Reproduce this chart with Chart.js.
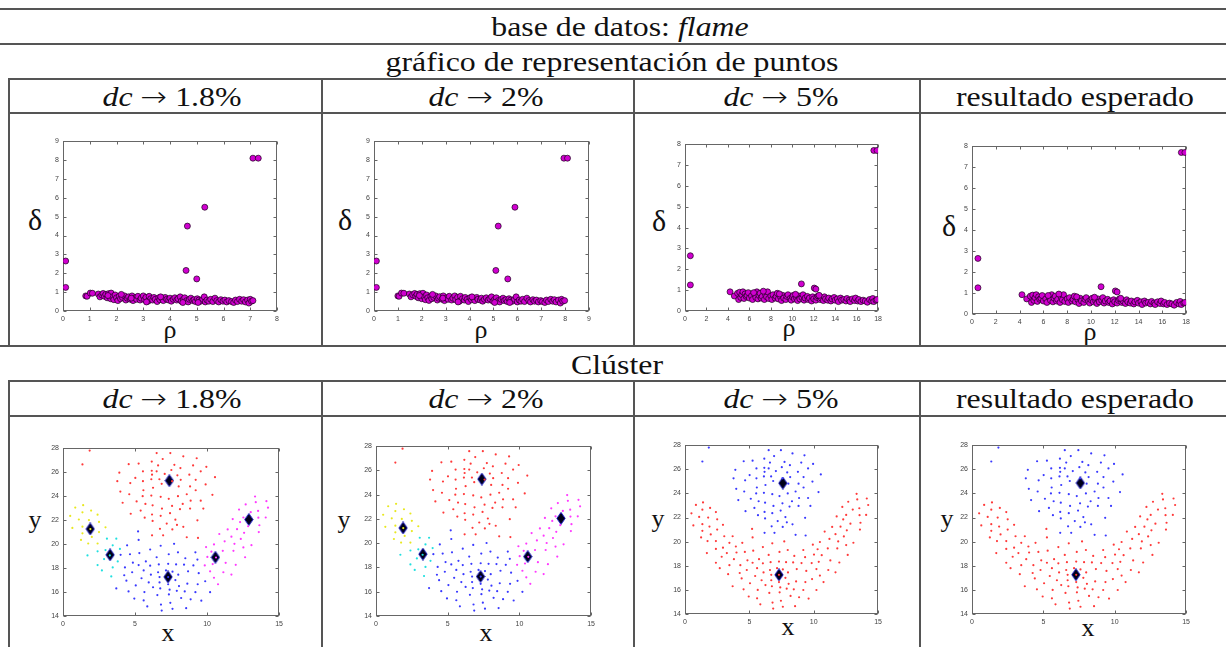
<!DOCTYPE html>
<html>
<head>
<meta charset="utf-8">
<script src="https://cdn.jsdelivr.net/npm/chart.js@4.4.0/dist/chart.umd.min.js"></script>
<style>
  body { margin: 0; width: 1226px; height: 647px; background: #fff; position: relative; overflow: hidden; font-family: "Liberation Serif", serif; color: #111; }
  .hl { position: absolute; height: 2px; background: #555; }
  .vl { position: absolute; width: 2px; background: #555; }
  .t { position: absolute; font-size: 27px; line-height: 1; white-space: nowrap; transform: translate(-50%, -50%) scaleX(1.18); }
  .t .arr { font-family: "DejaVu Sans", sans-serif; font-size: 27px; font-weight: 300; }
  .ax { position: absolute; font-size: 26px; line-height: 1; white-space: nowrap; transform: translate(-50%, -50%); }
  canvas { position: absolute; }
</style>
</head>
<body>

<div class="hl" style="left:0;top:8px;width:1226px"></div>
<div class="hl" style="left:0;top:43px;width:1226px"></div>
<div class="hl" style="left:9px;top:78px;width:1217px"></div>
<div class="hl" style="left:9px;top:112px;width:1217px"></div>
<div class="hl" style="left:0;top:345px;width:1226px"></div>
<div class="hl" style="left:9px;top:380px;width:1217px"></div>
<div class="hl" style="left:9px;top:415px;width:1217px"></div>

<div class="vl" style="left:8px;top:78px;height:268px"></div>
<div class="vl" style="left:321px;top:78px;height:268px"></div>
<div class="vl" style="left:633px;top:78px;height:268px"></div>
<div class="vl" style="left:919px;top:78px;height:268px"></div>
<div class="vl" style="left:8px;top:380px;height:267px"></div>
<div class="vl" style="left:321px;top:380px;height:267px"></div>
<div class="vl" style="left:633px;top:380px;height:267px"></div>
<div class="vl" style="left:919px;top:380px;height:267px"></div>

<div class="t" style="left:620px;top:27px">base de datos: <i>flame</i></div>
<div class="t" style="left:612px;top:62px">gráfico de representación de puntos</div>
<div class="t" style="left:172px;top:97px"><i>dc</i> <span class="arr">→</span> 1.8%</div>
<div class="t" style="left:486px;top:97px"><i>dc</i> <span class="arr">→</span> 2%</div>
<div class="t" style="left:781px;top:97px"><i>dc</i> <span class="arr">→</span> 5%</div>
<div class="t" style="left:1075px;top:97px">resultado esperado</div>
<div class="t" style="left:617px;top:365px">Clúster</div>
<div class="t" style="left:172px;top:399px"><i>dc</i> <span class="arr">→</span> 1.8%</div>
<div class="t" style="left:486px;top:399px"><i>dc</i> <span class="arr">→</span> 2%</div>
<div class="t" style="left:781px;top:399px"><i>dc</i> <span class="arr">→</span> 5%</div>
<div class="t" style="left:1075px;top:399px">resultado esperado</div>

<div class="ax" style="left:35px;top:220px;font-size:30px">δ</div>
<div class="ax" style="left:170px;top:330px">ρ</div>
<div class="ax" style="left:345px;top:220px;font-size:30px">δ</div>
<div class="ax" style="left:481px;top:330px">ρ</div>
<div class="ax" style="left:659px;top:221px;font-size:30px">δ</div>
<div class="ax" style="left:789px;top:328px">ρ</div>
<div class="ax" style="left:949px;top:226px;font-size:30px">δ</div>
<div class="ax" style="left:1090px;top:332px">ρ</div>

<div class="ax" style="left:35px;top:520px">y</div>
<div class="ax" style="left:168px;top:633px">x</div>
<div class="ax" style="left:344px;top:520px">y</div>
<div class="ax" style="left:486px;top:633px">x</div>
<div class="ax" style="left:658px;top:519px">y</div>
<div class="ax" style="left:788px;top:627px">x</div>
<div class="ax" style="left:947px;top:519px">y</div>
<div class="ax" style="left:1088px;top:628px">x</div>

<canvas id="d1"></canvas>
<canvas id="d2"></canvas>
<canvas id="d3"></canvas>
<canvas id="d4"></canvas>
<canvas id="c1"></canvas>
<canvas id="c2"></canvas>
<canvas id="c3"></canvas>
<canvas id="c4"></canvas>

<script>
// tick labels
const rhoTicks18 = [0, 1, 2, 3, 4, 5, 6, 7, 8];
const rhoTicks2 = [0, 1, 2, 3, 4, 5, 6, 7, 8, 9];
const rhoTicks5 = [0, 2, 4, 6, 8, 10, 12, 14, 16, 18];
const deltaTicks9 = [0, 1, 2, 3, 4, 5, 6, 7, 8, 9];
const deltaTicks8 = [0, 1, 2, 3, 4, 5, 6, 7, 8];
const xTicks = [0, 5, 10, 15];
const yTicks = [14, 16, 18, 20, 22, 24, 26, 28];

// decision graph, dc 1.8%  [rho, delta]
const decision18 = [
  [0.1, 2.65], [0.1, 1.25], [4.6, 2.15], [4.65, 4.5], [5.0, 1.7], [5.3, 5.5], [7.1, 8.1], [7.3, 8.1],
  [0.85, 0.80], [0.90, 0.78], [1.02, 0.95], [1.10, 0.94], [1.32, 0.90], [1.38, 0.75], [1.45, 0.85], [1.50, 0.93],
  [1.55, 0.78], [1.60, 0.88], [1.65, 0.70], [1.70, 0.92], [1.72, 0.80], [1.78, 0.65], [1.80, 0.95], [1.85, 0.75],
  [1.90, 0.60], [1.95, 0.85], [2.00, 0.70], [2.05, 0.55], [2.10, 0.78], [2.15, 0.65], [2.22, 0.72], [2.30, 0.80],
  [2.35, 0.58], [2.40, 0.68], [2.45, 0.75], [2.52, 0.62], [2.58, 0.80], [2.62, 0.55], [2.70, 0.70], [2.75, 0.62],
  [2.80, 0.78], [2.88, 0.58], [2.92, 0.68], [3.00, 0.80], [3.05, 0.60], [3.10, 0.72], [3.18, 0.52], [3.22, 0.78],
  [3.28, 0.65], [3.35, 0.58], [3.40, 0.72], [3.45, 0.62], [3.52, 0.50], [3.58, 0.70], [3.62, 0.60], [3.70, 0.68],
  [3.75, 0.55], [3.82, 0.72], [3.88, 0.62], [3.95, 0.58], [4.00, 0.68], [4.05, 0.52], [4.12, 0.62], [4.18, 0.70],
  [4.25, 0.58], [4.30, 0.65], [4.38, 0.75], [4.42, 0.52], [4.50, 0.62], [4.55, 0.70], [4.62, 0.55], [4.68, 0.48],
  [4.72, 0.62], [4.78, 0.68], [4.85, 0.55], [4.90, 0.60], [4.95, 0.50], [5.02, 0.65], [5.08, 0.58], [5.15, 0.52],
  [5.22, 0.62], [5.28, 0.75], [5.32, 0.48], [5.38, 0.58], [5.45, 0.52], [5.52, 0.62], [5.60, 0.50], [5.68, 0.68],
  [5.75, 0.55], [5.82, 0.48], [5.90, 0.60], [5.98, 0.52], [6.05, 0.58], [6.12, 0.48], [6.20, 0.55], [6.30, 0.50],
  [6.38, 0.45], [6.45, 0.58], [6.52, 0.50], [6.60, 0.62], [6.68, 0.52], [6.75, 0.60], [6.82, 0.48], [6.90, 0.58],
  [6.95, 0.42], [7.00, 0.62], [7.05, 0.52], [7.10, 0.55], [2.55, 0.68], [3.65, 0.75], [1.68, 0.82], [4.48, 0.45],
  [5.05, 0.45], [3.12, 0.48], [2.18, 0.88]
];

// decision graph, dc 2%
const decision2 = [
  [0.1, 2.65], [0.1, 1.25], [5.1, 2.15], [5.2, 4.5], [5.6, 1.7], [5.9, 5.5], [7.95, 8.1], [8.1, 8.1],
  [1.00, 0.80], [1.05, 0.78], [1.15, 0.95], [1.25, 0.94], [1.48, 0.90], [1.55, 0.75], [1.62, 0.86], [1.70, 0.93],
  [1.75, 0.78], [1.80, 0.88], [1.85, 0.70], [1.92, 0.92], [1.95, 0.80], [2.00, 0.65], [2.05, 0.94], [2.10, 0.75],
  [2.15, 0.60], [2.20, 0.85], [2.25, 0.70], [2.30, 0.56], [2.38, 0.78], [2.42, 0.65], [2.50, 0.72], [2.58, 0.80],
  [2.65, 0.58], [2.70, 0.68], [2.75, 0.76], [2.85, 0.62], [2.90, 0.80], [2.95, 0.55], [3.05, 0.70], [3.10, 0.62],
  [3.15, 0.78], [3.25, 0.58], [3.30, 0.68], [3.38, 0.80], [3.42, 0.60], [3.50, 0.72], [3.58, 0.52], [3.62, 0.78],
  [3.70, 0.65], [3.78, 0.58], [3.82, 0.72], [3.90, 0.62], [3.95, 0.50], [4.02, 0.70], [4.08, 0.60], [4.15, 0.68],
  [4.22, 0.55], [4.30, 0.72], [4.35, 0.62], [4.45, 0.58], [4.50, 0.68], [4.55, 0.52], [4.62, 0.62], [4.70, 0.70],
  [4.78, 0.58], [4.85, 0.65], [4.92, 0.75], [4.98, 0.52], [5.05, 0.62], [5.12, 0.70], [5.20, 0.55], [5.26, 0.48],
  [5.32, 0.62], [5.40, 0.68], [5.45, 0.55], [5.52, 0.60], [5.58, 0.50], [5.65, 0.65], [5.72, 0.58], [5.80, 0.52],
  [5.88, 0.62], [5.95, 0.75], [6.00, 0.48], [6.08, 0.58], [6.15, 0.52], [6.22, 0.62], [6.30, 0.50], [6.40, 0.68],
  [6.48, 0.55], [6.55, 0.48], [6.65, 0.60], [6.72, 0.52], [6.80, 0.58], [6.88, 0.48], [6.98, 0.55], [7.05, 0.50],
  [7.15, 0.45], [7.22, 0.58], [7.30, 0.50], [7.40, 0.62], [7.48, 0.52], [7.55, 0.60], [7.62, 0.48], [7.72, 0.58],
  [7.80, 0.42], [7.85, 0.62], [7.90, 0.52], [7.98, 0.55], [2.88, 0.68], [4.10, 0.75], [1.90, 0.82], [5.05, 0.45],
  [5.68, 0.45], [3.52, 0.48], [2.45, 0.88]
];

// decision graph, dc 5% (the expected-result graph looks the same)
const decision5 = [
  [0.5, 2.65], [0.5, 1.25], [10.85, 1.3], [12.05, 1.1], [12.2, 1.05], [17.6, 7.7], [17.9, 7.7],
  [4.20, 0.92], [4.60, 0.72], [4.90, 0.85], [5.00, 0.55], [5.10, 0.90], [5.20, 0.65], [5.30, 0.78], [5.40, 0.92],
  [5.50, 0.60], [5.60, 0.82], [5.70, 0.70], [5.80, 0.75], [5.90, 0.88], [6.00, 0.62], [6.20, 0.72], [6.30, 0.55],
  [6.50, 0.80], [6.60, 0.65], [6.70, 0.92], [6.80, 0.58], [6.90, 0.75], [7.00, 0.85], [7.10, 0.62], [7.20, 0.70],
  [7.40, 0.55], [7.50, 0.80], [7.60, 0.68], [7.70, 0.92], [7.80, 0.60], [8.00, 0.72], [8.10, 0.55], [8.20, 0.78],
  [8.40, 0.62], [8.50, 0.70], [8.60, 0.85], [8.70, 0.58], [8.90, 0.68], [9.00, 0.50], [9.10, 0.75], [9.20, 0.62],
  [9.40, 0.55], [9.50, 0.70], [9.60, 0.78], [9.80, 0.60], [9.90, 0.52], [10.00, 0.68], [10.10, 0.75], [10.20, 0.58],
  [10.40, 0.62], [10.50, 0.50], [10.60, 0.72], [10.70, 0.58], [10.90, 0.65], [11.00, 0.78], [11.10, 0.52], [11.20, 0.62],
  [11.40, 0.70], [11.50, 0.55], [11.60, 0.62], [11.80, 0.48], [11.90, 0.68], [12.00, 0.58], [12.20, 0.52], [12.30, 0.65],
  [12.40, 0.72], [12.60, 0.55], [12.70, 0.62], [12.90, 0.50], [13.00, 0.68], [13.10, 0.58], [13.30, 0.52], [13.40, 0.62],
  [13.60, 0.48], [13.70, 0.58], [13.90, 0.65], [14.00, 0.52], [14.20, 0.58], [14.30, 0.45], [14.50, 0.62], [14.60, 0.52],
  [14.80, 0.55], [15.00, 0.48], [15.10, 0.60], [15.30, 0.52], [15.40, 0.45], [15.60, 0.58], [15.80, 0.50], [15.90, 0.62],
  [16.10, 0.48], [16.20, 0.55], [16.40, 0.45], [16.60, 0.52], [16.80, 0.48], [17.00, 0.42], [17.20, 0.55], [17.40, 0.48],
  [17.50, 0.60], [17.60, 0.45], [17.80, 0.52], [17.90, 0.55], [6.40, 0.88], [7.30, 0.95], [8.80, 0.82], [10.30, 0.80],
  [12.50, 0.75]
];

// flame points [x, y], grouped as the dc 1.8% run colours them
const topPts = [
  [1.85, 27.80], [1.35, 26.65], [6.50, 27.59], [7.45, 27.59], [6.92, 27.10], [8.35, 27.32], [5.25, 26.72], [6.16, 26.88],
  [7.73, 26.61], [9.28, 27.16], [9.03, 26.56], [9.95, 26.45], [6.60, 26.56], [8.15, 26.34], [4.56, 26.67], [3.91, 25.96],
  [5.55, 26.07], [6.16, 26.12], [6.50, 26.07], [7.52, 26.18], [7.06, 25.85], [9.56, 26.07], [10.55, 25.58], [5.02, 25.52],
  [3.77, 25.25], [4.67, 25.09], [5.55, 25.25], [6.13, 25.41], [6.69, 25.41], [6.18, 25.79], [7.94, 25.74], [8.17, 25.36],
  [8.77, 25.79], [9.21, 25.36], [6.85, 25.03], [6.25, 24.70], [5.58, 24.49], [3.98, 24.38], [8.03, 24.81], [7.57, 25.25],
  [8.82, 24.81], [9.90, 24.98], [4.60, 24.16], [5.53, 24.00], [6.13, 24.05], [6.78, 23.94], [7.34, 23.78], [7.98, 24.00],
  [8.59, 24.16], [9.21, 24.49], [10.37, 24.11], [5.11, 23.56], [5.72, 23.35], [6.22, 23.23], [6.87, 22.96], [7.57, 23.18],
  [8.31, 23.35], [8.86, 23.62], [9.56, 23.62], [4.14, 23.45], [5.39, 22.80], [4.70, 22.53], [6.18, 22.47], [6.78, 22.36],
  [7.43, 22.58], [8.12, 22.91], [8.82, 22.96], [9.74, 22.96], [5.67, 22.20], [6.22, 21.93], [7.20, 21.71], [7.91, 21.60],
  [8.35, 21.44], [7.80, 22.04], [9.33, 21.98], [6.73, 21.27], [7.59, 21.22], [6.18, 20.73], [6.95, 20.73], [8.59, 20.57],
  [9.37, 20.51]
];
const yellowPts = [
  [1.40, 23.25], [0.85, 23.05], [0.50, 22.35], [0.65, 21.35], [1.10, 22.05], [1.35, 22.65], [1.95, 22.80], [2.40, 22.45],
  [1.80, 22.00], [2.50, 21.85], [2.95, 21.40], [1.90, 21.25], [1.35, 21.45], [1.35, 20.90], [1.25, 20.35], [1.75, 20.05],
  [2.00, 20.60], [2.50, 21.00], [2.40, 20.05]
];
const cyanPts = [
  [1.70, 19.05], [3.05, 20.45], [3.70, 20.45], [3.45, 19.90], [2.95, 19.50], [2.40, 19.40], [2.40, 18.25], [2.85, 18.75],
  [3.25, 19.05], [3.95, 19.60], [2.70, 17.80], [3.45, 18.05], [3.80, 18.55], [3.35, 17.30]
];
const bluePts = [
  [4.00, 19.10], [4.45, 19.90], [4.65, 19.15], [4.85, 18.45], [4.30, 18.05], [3.70, 16.30], [4.40, 16.95], [4.25, 17.40],
  [4.80, 17.65], [5.25, 18.25], [5.75, 18.55], [5.30, 19.25], [6.05, 19.55], [6.50, 18.90], [6.05, 18.20], [5.60, 17.80],
  [5.45, 17.15], [5.05, 16.55], [4.55, 16.05], [4.95, 15.45], [5.85, 14.80], [5.60, 15.30], [5.65, 16.00], [5.95, 16.80],
  [6.25, 16.40], [6.10, 17.45], [6.60, 17.65], [6.65, 18.30], [7.30, 18.35], [7.85, 18.30], [7.15, 17.80], [7.60, 17.70],
  [6.70, 17.25], [7.30, 17.25], [6.70, 16.80], [7.30, 16.65], [6.75, 16.30], [7.40, 16.20], [6.55, 15.75], [7.35, 15.80],
  [6.80, 14.95], [7.45, 15.10], [6.85, 14.45], [7.60, 14.60], [8.55, 14.65], [8.20, 15.50], [7.90, 16.10], [8.05, 16.50],
  [7.80, 17.00], [8.00, 17.45], [8.40, 18.28], [5.21, 21.06], [5.25, 20.35], [6.78, 19.86], [7.71, 20.02], [7.98, 19.31],
  [7.34, 19.15], [8.49, 18.82], [9.19, 19.31], [9.33, 18.71], [9.05, 18.22], [8.68, 17.73], [9.42, 17.57], [8.63, 16.70],
  [9.35, 16.65], [8.45, 16.05], [9.19, 15.99], [8.86, 15.39], [9.60, 15.28], [9.87, 16.90], [10.21, 15.99]
];
const magentaPts = [
  [10.85, 20.84], [9.93, 19.75], [10.48, 19.97], [10.30, 19.37], [10.02, 18.93], [10.62, 18.88], [9.84, 18.22], [10.39, 18.33],
  [10.21, 17.73], [10.48, 17.19], [10.76, 16.65], [13.33, 23.97], [14.12, 23.58], [13.38, 23.50], [14.23, 23.04], [12.68, 23.31],
  [13.54, 22.77], [12.22, 22.88], [13.03, 22.66], [12.52, 22.22], [14.07, 22.22], [13.56, 22.20], [11.78, 22.09], [12.29, 21.84],
  [13.63, 21.57], [12.85, 21.49], [11.43, 21.22], [12.08, 21.24], [13.59, 21.00], [12.57, 20.94], [11.69, 20.62], [12.34, 20.43],
  [11.22, 20.23], [11.90, 20.02], [13.08, 19.91], [12.52, 19.72], [11.09, 19.44], [11.83, 19.44], [11.29, 18.44], [11.99, 18.27],
  [12.64, 18.90], [11.13, 17.65], [11.69, 17.46]
];

// cluster centres
const centers18 = [[7.38, 25.29], [1.89, 21.26], [3.27, 19.10], [7.29, 17.26], [10.58, 18.90], [12.90, 22.05]];
const centers2 = [[7.38, 25.29], [1.89, 21.26], [3.27, 19.10], [7.29, 17.26], [10.58, 18.90], [12.90, 22.05]];
const centers5 = [[7.60, 24.85], [7.30, 17.25]];
const centersExp = [[7.59, 24.87], [7.28, 17.26]];

const toXY = pts => pts.map(p => ({ x: p[0], y: p[1] }));

// tall diamond marker used for the cluster centres
const diamondImg = document.createElement('canvas');
diamondImg.width = 10;
diamondImg.height = 13;
(() => {
  const g = diamondImg.getContext('2d');
  g.beginPath();
  g.moveTo(5, 0.5); g.lineTo(9.2, 6.5); g.lineTo(5, 12.5); g.lineTo(0.8, 6.5);
  g.closePath();
  g.fillStyle = '#000018';
  g.fill();
  g.strokeStyle = '#2020c8';
  g.lineWidth = 1;
  g.stroke();
})();

const matlabBox = {
  id: 'matlabBox',
  beforeDatasetsDraw(chart) {
    const { ctx, chartArea: a, scales: { x, y } } = chart;
    ctx.save();
    ctx.strokeStyle = '#666';
    ctx.lineWidth = 1;
    const l = Math.round(a.left) + 0.5, r = Math.round(a.right) - 0.5;
    const t = Math.round(a.top) + 0.5, b = Math.round(a.bottom) - 0.5;
    ctx.strokeRect(l, t, r - l, b - t);
    ctx.beginPath();
    x.ticks.forEach(tk => {
      const px = Math.round(x.getPixelForValue(tk.value)) + 0.5;
      ctx.moveTo(px, b); ctx.lineTo(px, b - 3);
      ctx.moveTo(px, t); ctx.lineTo(px, t + 3);
    });
    y.ticks.forEach(tk => {
      const py = Math.round(y.getPixelForValue(tk.value)) + 0.5;
      ctx.moveTo(l, py); ctx.lineTo(l + 3, py);
      ctx.moveTo(r, py); ctx.lineTo(r - 3, py);
    });
    ctx.stroke();
    ctx.restore();
  }
};

const makeAxis = (min, max, ticks, isX) => ({
  type: 'linear',
  min: min,
  max: max,
  afterBuildTicks: s => { s.ticks = ticks.map(v => ({ value: v })); },
  afterFit: s => { if (isX) { s.height = 20; } else { s.width = 24; } },
  grid: { display: false, drawTicks: false },
  border: { display: false },
  ticks: { font: { family: 'Liberation Sans', size: 7 }, color: '#444', padding: 4, maxRotation: 0, autoSkip: false }
});

const makePlot = (id, frame, xAx, yAx, datasets) => {
  const canvas = document.getElementById(id);
  const w = frame.r - frame.l + 30;
  const h = frame.b - frame.t + 26;
  canvas.width = w;
  canvas.height = h;
  canvas.style.left = (frame.l - 24) + 'px';
  canvas.style.top = (frame.t - 6) + 'px';
  canvas.style.width = w + 'px';
  canvas.style.height = h + 'px';
  return new Chart(canvas.getContext('2d'), {
    type: 'scatter',
    data: { datasets: datasets },
    options: {
      responsive: false,
      animation: false,
      events: [],
      layout: { padding: { top: 6, right: 6, left: 0, bottom: 0 } },
      scales: { x: xAx, y: yAx },
      plugins: { legend: { display: false }, tooltip: { enabled: false } }
    },
    plugins: [matlabBox]
  });
};

const decisionSet = pts => [{
  data: toXY(pts),
  backgroundColor: '#d000d0',
  borderColor: '#1a001a',
  borderWidth: 0.7,
  pointRadius: 3
}];

const dots = (pts, color) => ({ data: toXY(pts), backgroundColor: color, borderWidth: 0, pointRadius: 1.1 });
const diamonds = pts => ({ data: toXY(pts), pointStyle: diamondImg, pointRadius: 6 });

makePlot('d1', { l: 63, r: 277, t: 139, b: 311 }, makeAxis(0, 8, rhoTicks18, true), makeAxis(0, 9, deltaTicks9, false), decisionSet(decision18));
makePlot('d2', { l: 374, r: 589, t: 139, b: 311 }, makeAxis(0, 9, rhoTicks2, true), makeAxis(0, 9, deltaTicks9, false), decisionSet(decision2));
makePlot('d3', { l: 685, r: 880, t: 142, b: 311 }, makeAxis(0, 18, rhoTicks5, true), makeAxis(0, 8, deltaTicks8, false), decisionSet(decision5));
makePlot('d4', { l: 972, r: 1188, t: 144, b: 314 }, makeAxis(0, 18, rhoTicks5, true), makeAxis(0, 8, deltaTicks8, false), decisionSet(decision5));

const sixColour = centers => [
  dots(topPts, '#ff3a3a'),
  dots(yellowPts, '#e8e820'),
  dots(cyanPts, '#20e0e0'),
  dots(bluePts, '#3a3aff'),
  dots(magentaPts, '#ff3aff'),
  diamonds(centers)
];
const twoColour = centers => [
  dots(topPts, '#3a3aff'),
  dots(yellowPts.concat(cyanPts, bluePts, magentaPts), '#ff3a3a'),
  diamonds(centers)
];

makePlot('c1', { l: 63, r: 281, t: 446, b: 616 }, makeAxis(0, 15, xTicks, true), makeAxis(14, 28, yTicks, false), sixColour(centers18));
makePlot('c2', { l: 376, r: 593, t: 444, b: 616 }, makeAxis(0, 15, xTicks, true), makeAxis(14, 28, yTicks, false), sixColour(centers2));
makePlot('c3', { l: 685, r: 880, t: 443, b: 614 }, makeAxis(0, 15, xTicks, true), makeAxis(14, 28, yTicks, false), twoColour(centers5));
makePlot('c4', { l: 972, r: 1188, t: 443, b: 614 }, makeAxis(0, 15, xTicks, true), makeAxis(14, 28, yTicks, false), twoColour(centersExp));
</script>
</body>
</html>
